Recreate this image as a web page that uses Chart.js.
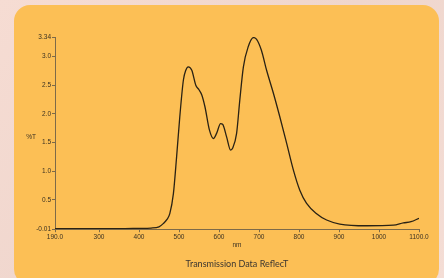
<!DOCTYPE html>
<html>
<head>
    <title>Transmission Data ReflecT</title>
    <script src="https://cdn.jsdelivr.net/npm/chart.js"></script>
    <style>
        html, body { margin: 0; padding: 0; }
        body {
            width: 444px; height: 278px; overflow: hidden; position: relative;
            background: linear-gradient(135deg, #f6dcd3 0%, #efd6cd 50%, #f4ddd5 100%);
        }
        .card {
            position: absolute; left: 14px; top: 5px; width: 425px; height: 280px;
            background: #fcbf55; border-radius: 16px;
        }
        #spectrum { position: absolute; left: 0; top: 0; }
    </style>
</head>
<body>
    <div class="card"></div>
    <canvas id="spectrum" width="444" height="278"></canvas>
    <script>
        // wavelength (nm) and %T
        const wavelengths = [190, 250, 300, 350, 400, 430, 450, 461, 470, 477, 486, 494, 502, 511, 517, 523,
            532, 542, 550, 557, 565, 576, 586, 594, 604, 609, 619, 629, 634, 644, 652, 661, 673, 686, 694,
            706, 719, 736, 752, 769, 786, 802, 819, 844, 869, 902, 969, 1036, 1061, 1080, 1100];
        const transmission = [0.0, 0.0, 0.0, 0.0, 0.005, 0.01, 0.03, 0.09, 0.16, 0.26, 0.61, 1.25, 1.95, 2.59, 2.76, 2.82,
            2.76, 2.50, 2.42, 2.33, 2.12, 1.72, 1.57, 1.66, 1.83, 1.82, 1.60, 1.37, 1.40, 1.66, 2.24, 2.82, 3.17, 3.33, 3.30,
            3.11, 2.76, 2.36, 1.95, 1.49, 1.02, 0.67, 0.44, 0.26, 0.15, 0.08, 0.05, 0.06, 0.10, 0.12, 0.18];

        const xTicks = [190, 300, 400, 500, 600, 700, 800, 900, 1000, 1100];
        const xTickLabels = ['190.0', '300', '400', '500', '600', '700', '800', '900', '1000', '1100.0'];
        const yTicks = [-0.01, 0.5, 1.0, 1.5, 2.0, 2.5, 3.0, 3.34];
        const yTickLabels = ['-0.01', '0.5', '1.0', '1.5', '2.0', '2.5', '3.0', '3.34'];

        const textColor = '#3a3122';
        const axisColor = '#7d6a48';

        // "%T" sits horizontally beside the y axis
        const yLabelPlugin = {
            id: 'yLabel',
            afterDraw(chart) {
                const ctx = chart.ctx;
                const area = chart.chartArea;
                ctx.save();
                ctx.font = '6.5px "Liberation Sans", Arial, sans-serif';
                ctx.fillStyle = textColor;
                ctx.textAlign = 'center';
                ctx.textBaseline = 'middle';
                ctx.fillText('%T', area.left - 24, (area.top + area.bottom) / 2 + 4);
                ctx.restore();
            }
        };

        const ctx = document.getElementById('spectrum').getContext('2d');
        new Chart(ctx, {
            type: 'line',
            data: {
                datasets: [{
                    data: wavelengths.map((w, i) => ({ x: w, y: transmission[i] })),
                    borderColor: '#2a2214',
                    borderWidth: 1.3,
                    pointRadius: 0,
                    cubicInterpolationMode: 'monotone',
                    fill: false
                }]
            },
            options: {
                responsive: false,
                animation: false,
                layout: { padding: { left: 0, right: 25, top: 37, bottom: 0 } },
                plugins: {
                    legend: { display: false },
                    tooltip: { enabled: false },
                    title: {
                        display: true,
                        text: 'Transmission Data ReflecT',
                        position: 'bottom',
                        fullSize: false,
                        color: '#3a3530',
                        font: { family: 'Lato, sans-serif', size: 9, weight: 'normal' },
                        padding: { top: 9, bottom: 9 }
                    }
                },
                scales: {
                    x: {
                        type: 'linear',
                        min: 190,
                        max: 1100,
                        afterBuildTicks: axis => { axis.ticks = xTicks.map(v => ({ value: v })); },
                        afterFit: axis => { axis.height = 20; },
                        ticks: {
                            autoSkip: false,
                            maxRotation: 0,
                            padding: 1,
                            color: textColor,
                            font: { family: '"Liberation Sans", Arial, sans-serif', size: 6.5 },
                            callback: (v, i) => xTickLabels[i]
                        },
                        grid: { drawOnChartArea: false, tickLength: 3, color: axisColor },
                        border: { color: axisColor, width: 1 },
                        title: {
                            display: true,
                            text: 'nm',
                            color: textColor,
                            padding: 0,
                            font: { family: '"Liberation Sans", Arial, sans-serif', size: 6.5 }
                        }
                    },
                    y: {
                        min: -0.01,
                        max: 3.34,
                        afterBuildTicks: axis => { axis.ticks = yTicks.map(v => ({ value: v })); },
                        afterFit: axis => { axis.width = 55; },
                        ticks: {
                            autoSkip: false,
                            padding: 1,
                            color: textColor,
                            font: { family: '"Liberation Sans", Arial, sans-serif', size: 6.5 },
                            callback: (v, i) => yTickLabels[i]
                        },
                        grid: { drawOnChartArea: false, tickLength: 3, color: axisColor },
                        border: { color: axisColor, width: 1 }
                    }
                }
            },
            plugins: [yLabelPlugin]
        });
    </script>
</body>
</html>
